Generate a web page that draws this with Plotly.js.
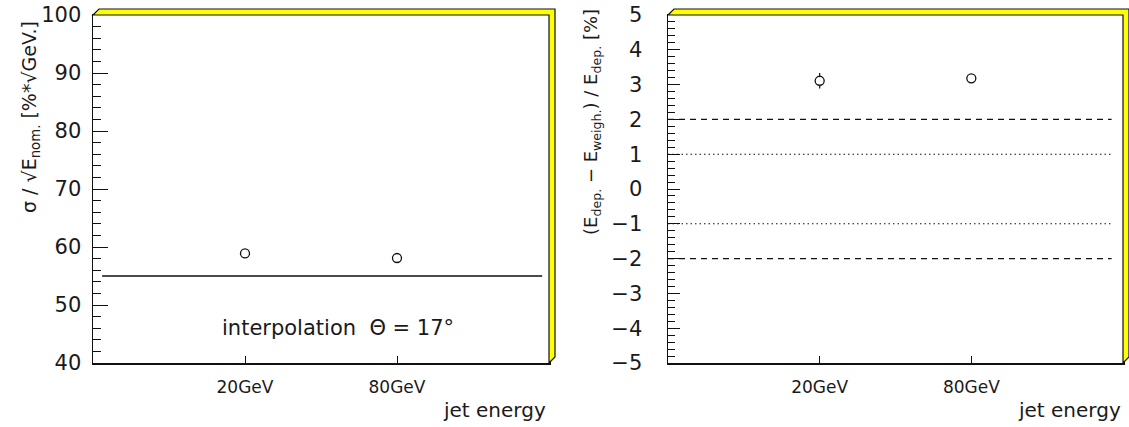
<!DOCTYPE html>
<html>
<head>
<meta charset="utf-8">
<script src="https://cdn.plot.ly/plotly-3.0.1.min.js"></script>
<style>html,body{margin:0;padding:0;background:#fff;}#chart{width:1129px;height:427px;}</style>
</head>
<body>
<div id="chart"></div>
<script>
// ---- data ----
const categories = ["20GeV", "80GeV"];
const resolution = [58.9, 58.1];          // sigma/sqrt(E) [% sqrt(GeV)]
const resolutionRef = 55;                 // reference horizontal line
const deviation = [3.11, 3.18];           // (Edep - Eweigh)/Edep [%]
const deviationErr = [0.22, 0.1];
const dashedLevels = [2, -2];
const dottedLevels = [1, -1];
const leftYTicks = [40, 50, 60, 70, 80, 90, 100];
const rightYTicks = [-5, -4, -3, -2, -1, 0, 1, 2, 3, 4, 5];

const W = 1129, H = 427;
const font = "DejaVu Sans, sans-serif";
const ink = "#111";
const txt = "#1a1a1a";
const dom1 = [93 / W, 549 / W];
const dom2 = [668 / W, 1123 / W];
const ydom = [1 - 363 / H, 1 - 15 / H];

function xaxisDef(d) {
  return {
    domain: d, type: "category", categoryarray: categories, range: [-1, 2],
    showgrid: false, zeroline: false, showline: true, mirror: true, linecolor: ink, linewidth: 1.5,
    ticks: "inside", ticklen: 7, tickwidth: 1, tickcolor: ink, ticklabelstandoff: 8,
    tickfont: {family: font, size: 17, color: txt}, fixedrange: true
  };
}
function yaxisDef(anchor, range, tickvals, ticklen, minorDt, minorLen, standoff) {
  return {
    domain: ydom, anchor: anchor, range: range, tickmode: "array", tickvals: tickvals,
    showgrid: false, zeroline: false, showline: true, mirror: true, linecolor: ink, linewidth: 1.5,
    ticks: "inside", ticklen: ticklen, tickwidth: 1, tickcolor: ink, ticklabelstandoff: standoff,
    tickfont: {family: font, size: 21, color: txt},
    minor: {dtick: minorDt, ticks: "inside", ticklen: minorLen, tickwidth: 1, tickcolor: ink, showgrid: false},
    fixedrange: true
  };
}

const markerStyle = {symbol: "circle", size: 9, color: "#fff", line: {width: 1.3, color: ink}};
const traces = [
  {x: categories, y: resolution, xaxis: "x", yaxis: "y", mode: "markers", type: "scatter",
   marker: markerStyle, showlegend: false},
  {x: categories, y: deviation, xaxis: "x2", yaxis: "y2", mode: "markers", type: "scatter",
   error_y: {type: "data", array: deviationErr, visible: true, color: ink, thickness: 1.2, width: 0},
   marker: markerStyle, showlegend: false}
];

// shadow (yellow 3D frame) shapes
function shadow(d) {
  const x0 = d[0] * W, x1 = d[1] * W, yt = 15, yb = 363, o = 6;
  const px = v => v / W, py = v => 1 - v / H;
  const pts = [[x0, yt], [x0 + o, yt - o], [x1 + o, yt - o], [x1 + o, yb - o], [x1, yb], [x1, yt]];
  let p = "M " + pts.map(q => px(q[0]) + "," + py(q[1])).join(" L ") + " Z";
  return {type: "path", xref: "paper", yref: "paper", path: p, fillcolor: "#ffff00",
          line: {color: ink, width: 1.2}, layer: "above"};
}

const shapes = [shadow(dom1), shadow(dom2),
  {type: "line", xref: "x domain", yref: "y", x0: 0.02, x1: 0.985, y0: resolutionRef, y1: resolutionRef,
   line: {color: ink, width: 1.3}, layer: "below"}];
dashedLevels.forEach(v => shapes.push({type: "line", xref: "x2 domain", yref: "y2", x0: 0, x1: 0.975, y0: v, y1: v,
  line: {color: ink, width: 1.1, dash: "6px,5px"}, layer: "below"}));
dottedLevels.forEach(v => shapes.push({type: "line", xref: "x2 domain", yref: "y2", x0: 0, x1: 0.975, y0: v, y1: v,
  line: {color: ink, width: 1.1, dash: "1.5px,3px"}, layer: "below"}));

const annotations = [
  {xref: "paper", yref: "paper", x: 30 / W, y: 1 - 117 / H, text: "σ / √E<sub>nom.</sub> [%*√GeV.]",
   textangle: -90, showarrow: false, font: {family: font, size: 19, color: txt}, xanchor: "center", yanchor: "middle"},
  {xref: "paper", yref: "paper", x: 592 / W, y: 1 - 122 / H, text: "(E<sub>dep.</sub> − E<sub>weigh.</sub>) / E<sub>dep.</sub> [%]",
   textangle: -90, showarrow: false, font: {family: font, size: 18, color: txt}, xanchor: "center", yanchor: "middle"},
  {xref: "paper", yref: "paper", x: 548 / W, y: 1 - 410 / H, text: "jet energy", showarrow: false,
   xanchor: "right", yanchor: "middle", font: {family: font, size: 20, color: txt}},
  {xref: "paper", yref: "paper", x: 1123 / W, y: 1 - 410 / H, text: "jet energy", showarrow: false,
   xanchor: "right", yanchor: "middle", font: {family: font, size: 20, color: txt}},
  {xref: "paper", yref: "paper", x: 338 / W, y: 1 - 328 / H, text: "interpolation  Θ = 17°", showarrow: false,
   xanchor: "center", yanchor: "middle", font: {family: font, size: 21, color: txt}}
];

const layout = {
  width: W, height: H, margin: {l: 0, r: 0, t: 0, b: 0},
  paper_bgcolor: "#fff", plot_bgcolor: "#fff", showlegend: false,
  xaxis: Object.assign(xaxisDef(dom1), {anchor: "y"}),
  xaxis2: Object.assign(xaxisDef(dom2), {anchor: "y2"}),
  yaxis: yaxisDef("x", [40, 100], leftYTicks, 15, 2, 8, 6),
  yaxis2: yaxisDef("x2", [-5, 5], rightYTicks, 12, 0.2, 7, 20),
  shapes: shapes, annotations: annotations
};

Plotly.newPlot("chart", traces, layout, {displayModeBar: false, staticPlot: true});
</script>
</body>
</html>
